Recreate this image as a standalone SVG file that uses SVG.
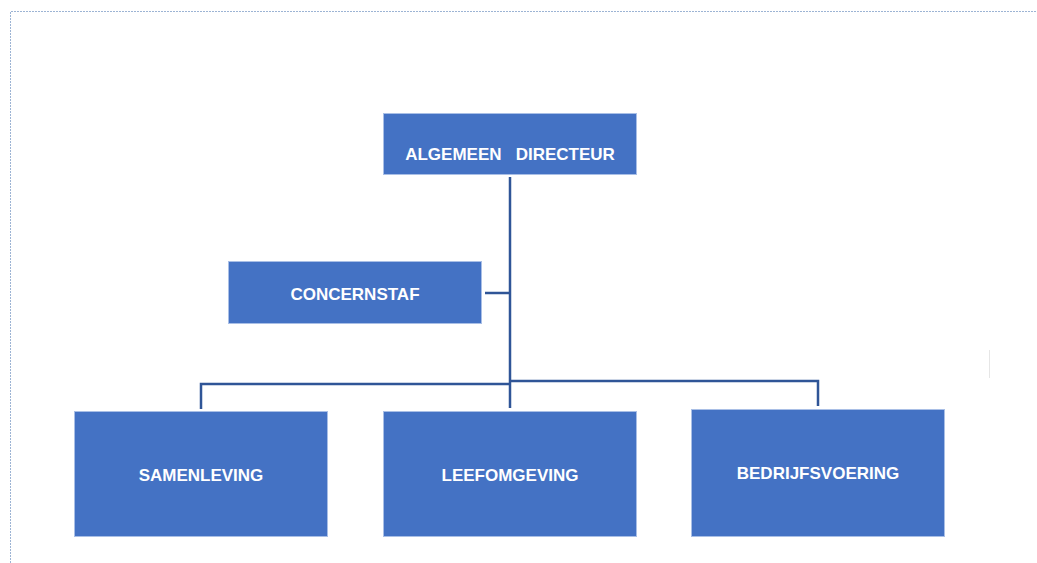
<svg xmlns="http://www.w3.org/2000/svg" width="1037" height="563" viewBox="0 0 1037 563">
<style>
.box{fill:#4472C4;stroke:#A9BFE6;stroke-width:1}
.lbl{fill:#FFFFFF;font-family:"Liberation Sans",Arial,sans-serif;font-weight:bold;font-size:17px;text-anchor:middle}
.con{fill:none;stroke:#2F5597;stroke-width:2.5}
.frame{fill:none;stroke:#9DB4D4;stroke-width:1;stroke-dasharray:2 1}
</style>
<rect width="1037" height="563" fill="#FFFFFF"/>
<path class="frame" d="M10.5 563 V11.5 H1037"/>
<line x1="989.5" y1="350" x2="989.5" y2="378" stroke="#E6E6E6" stroke-width="1"/>
<g id="connectors">
<path class="con" d="M510 177 V408"/>
<path class="con" d="M485 293 H510"/>
<path class="con" d="M201 409 V384 H510"/>
<path class="con" d="M510 381 H818 V406"/>
</g>
<g id="node-algemeen-directeur">
<rect class="box" x="383.5" y="113.5" width="253" height="61"/>
<text class="lbl" x="510" y="160" xml:space="preserve">ALGEMEEN   DIRECTEUR</text>
</g>
<g id="node-concernstaf">
<rect class="box" x="228.5" y="261.5" width="253" height="62"/>
<text class="lbl" x="355" y="300">CONCERNSTAF</text>
</g>
<g id="node-samenleving">
<rect class="box" x="74.5" y="411.5" width="253" height="125"/>
<text class="lbl" x="201" y="481">SAMENLEVING</text>
</g>
<g id="node-leefomgeving">
<rect class="box" x="383.5" y="411.5" width="253" height="125"/>
<text class="lbl" x="510" y="481">LEEFOMGEVING</text>
</g>
<g id="node-bedrijfsvoering">
<rect class="box" x="691.5" y="409.5" width="253" height="127"/>
<text class="lbl" x="818" y="479">BEDRIJFSVOERING</text>
</g>
</svg>
